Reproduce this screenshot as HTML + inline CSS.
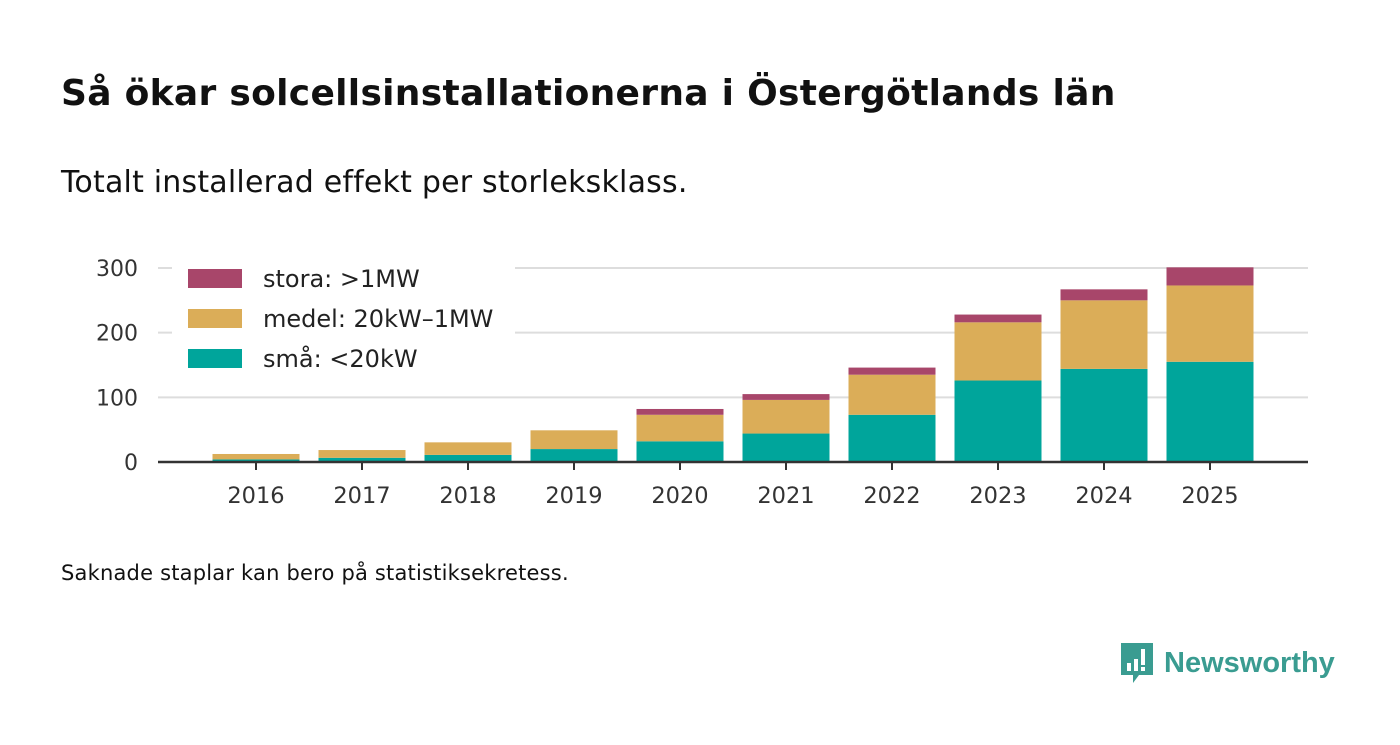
<!DOCTYPE html>
<html><head><meta charset="utf-8"><style>
body{margin:0;background:#fff;font-family:"DejaVu Sans","Liberation Sans",sans-serif;}
#wrap{position:relative;width:1400px;height:745px;overflow:hidden;}
h1{position:absolute;left:61px;top:73px;margin:0;font-size:36px;font-weight:bold;color:#111;letter-spacing:0.3px;white-space:nowrap}
.sub{position:absolute;left:61px;top:165px;font-size:30px;color:#111;white-space:nowrap;letter-spacing:0.2px}
.note{position:absolute;left:61px;top:561px;font-size:21px;color:#111;white-space:nowrap;letter-spacing:0.2px}
.logo{position:absolute;left:1119px;top:641px;display:flex;align-items:center}
.logo span{font-size:29px;font-weight:bold;color:#3a9c91;margin-left:9px;font-family:"Liberation Sans",sans-serif}
</style></head><body><div id="wrap">
<h1>Så ökar solcellsinstallationerna i Östergötlands län</h1>
<div class="sub">Totalt installerad effekt per storleksklass.</div>
<svg id="chart" width="1400" height="745" style="position:absolute;left:0;top:0"></svg>
<div class="note">Saknade staplar kan bero på statistiksekretess.</div>
<div class="logo">
<svg width="36" height="44" viewBox="0 0 36 44"><path d="M2 2h32v32H20l-6 8v-8H2z" fill="#3a9c91"/><rect x="8" y="22" width="4" height="8" fill="#fff"/><rect x="15" y="18" width="4" height="12" fill="#fff"/><rect x="22" y="8" width="4" height="16" fill="#fff"/><rect x="22" y="26" width="4" height="4" fill="#fff"/></svg>
<span>Newsworthy</span></div>
</div>
<script>
const years=["2016","2017","2018","2019","2020","2021","2022","2023","2024","2025"];
const small=[4,6.5,11,20,32,44,73,126,144,155];
const medium=[8.4,12,19.4,29,41,52,62,90,106,118];
const large=[0,0,0,0,9,9,11,12,17,28];
const yTicks=[0,100,200,300];
const svg=document.getElementById('chart');
const NS='http://www.w3.org/2000/svg';
const y0=462,yScale=194/300;
const yPos=v=>y0-v*yScale;
const xPos=i=>256+i*106;
const bw=87;
const FF='DejaVu Sans, Liberation Sans, sans-serif';
function el(t,a){const e=document.createElementNS(NS,t);for(const k in a)e.setAttribute(k,a[k]);svg.appendChild(e);return e;}
yTicks.forEach(t=>{
 if(t>0){const g=el('line',{x1:158,x2:1308,y1:yPos(t),y2:yPos(t),stroke:'#ddd','stroke-width':2});
 
 }
 const l=el('text',{x:138,y:yPos(t)+8,'text-anchor':'end','font-size':22,fill:'#333','font-family':FF});
 l.textContent=t;
 
 
});
const cols=['#00a59b','#dbad58','#a8466a'];
const series=[small,medium,large];
years.forEach((yr,i)=>{
 let base=0;
 series.forEach((s,k)=>{
  const v=s[i];
  if(v>0){const r=el('rect',{x:xPos(i)-bw/2,y:yPos(base+v),width:bw,height:v*yScale,fill:cols[k]});
  
  }
  base+=v;
 });
 const tk=el('line',{x1:xPos(i),x2:xPos(i),y1:y0,y2:y0+8,stroke:'#333','stroke-width':2});
 
 
 const t=el('text',{x:xPos(i),y:503,'text-anchor':'middle','font-size':22.5,fill:'#333','font-family':FF});
 t.textContent=yr;
 
 
});
const ax=el('line',{x1:158,x2:1308,y1:y0,y2:y0,stroke:'#333','stroke-width':2.5});


const lb=el('rect',{x:172,y:256,width:343,height:130,fill:'#fff'});


const leg=[['stora: >1MW','#a8466a'],['medel: 20kW–1MW','#dbad58'],['små: <20kW','#00a59b']];
leg.forEach((d,i)=>{
 const r=el('rect',{x:188,y:269+i*40,width:54,height:19,fill:d[1]});
 
 
 const t=el('text',{x:263,y:287+i*40,'font-size':24,fill:'#222','font-family':FF});
 t.textContent=d[0];
 
 
});
</script></body></html>
